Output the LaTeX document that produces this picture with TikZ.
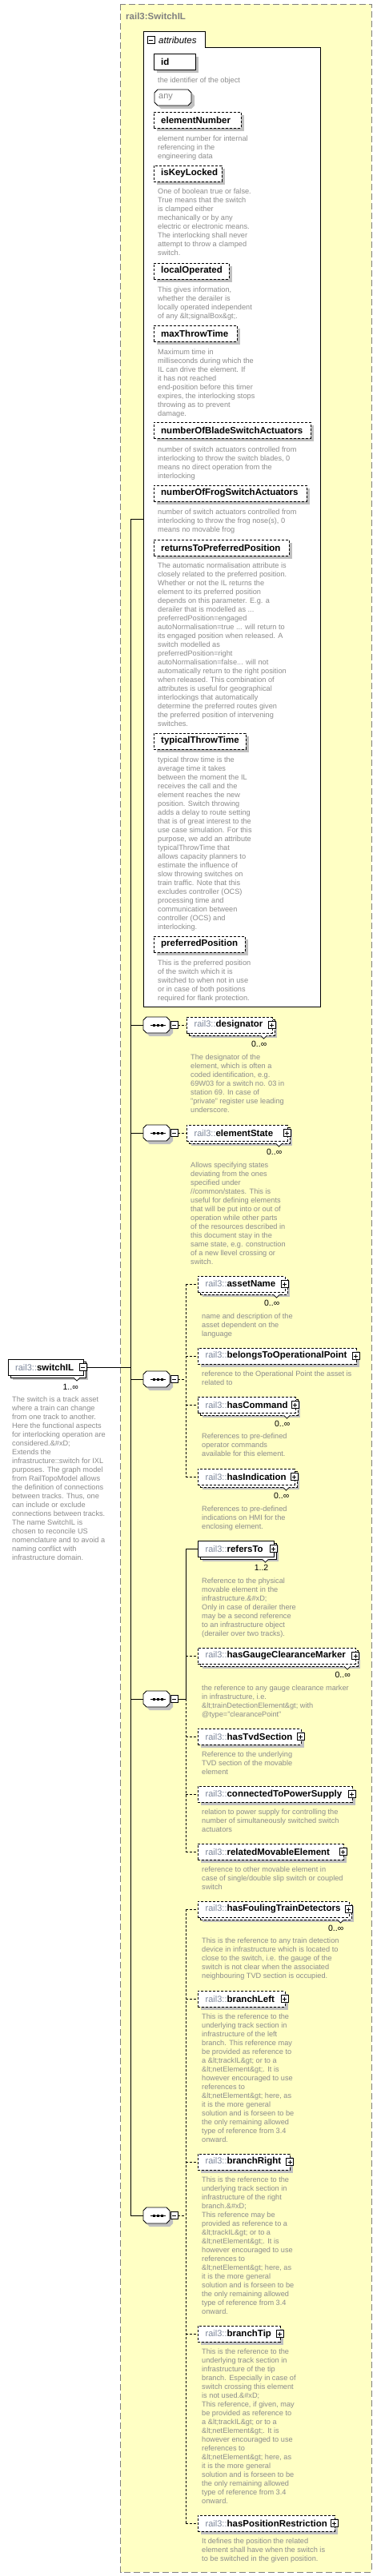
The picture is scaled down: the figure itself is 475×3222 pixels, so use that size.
\documentclass[tikz,border=0pt]{standalone}
\usepackage{fontspec}
\setmainfont{Liberation Sans}
\definecolor{bgy}{HTML}{FFFFC4}
\definecolor{shdg}{HTML}{C0C0C0}
\definecolor{dscg}{HTML}{8C8C8C}
\definecolor{preg}{HTML}{7C869A}
\definecolor{frameg}{HTML}{808080}
\tikzset{
  wire/.style={line width=0.9pt},
  dsh/.style={dash pattern=on 3pt off 2pt},
  sol/.style={},
  elbox/.style={rectangle, draw=black, fill=white, line width=0.9pt, minimum height=20pt, inner sep=0pt, anchor=west},
  lbl/.style={anchor=west, inner sep=0pt, font=\fontsize{11.5}{13}\selectfont},
  desc/.style={anchor=north west, inner sep=0pt, align=left, text=dscg, font=\fontsize{9.2}{11}\selectfont},
  occ/.style={anchor=east, inner sep=0pt, font=\fontsize{10.5}{12}\selectfont},
  sbox/.style={rectangle, draw=black, fill=white, line width=0.7pt, minimum size=9pt, inner sep=0pt},
}
\newcommand\xminus[3]{\node[sbox] (#1) at (#2,#3) {};
  \draw[line width=0.7pt] (#2-2.5,#3) -- (#2+2.5,#3);}
\newcommand\xplus[3]{\node[sbox] (#1) at (#2,#3) {};
  \draw[line width=0.7pt] (#2-2.5,#3) -- (#2+2.5,#3) (#2,#3-2.5) -- (#2,#3+2.5);}
\newcommand\xpre{{\fontsize{11}{13}\selectfont\color{preg}rail3::}}
% attribute: name, x2, yc, label, style
\newcommand\xattr[5]{%
  \fill[shdg] (196,#3-6) rectangle (#2+4,#3+14);
  \node[elbox,#5,minimum width={(#2-192)*1pt}] (#1) at (192,#3) {};
  \node[lbl] (#1l) at (201,#3) {\bfseries #4};}
% single element: name, x1, yc, x2, label, style
\newcommand\xone[6]{%
  \fill[shdg] (#2+4,#3-6) rectangle (#4+4,#3+14);
  \node[elbox,#6,minimum width={(#4-#2)*1pt}] (#1) at (#2,#3) {};
  \node[lbl] (#1l) at (#2+9.5,#3) {\xpre\bfseries #5};
  \xplus{#1p}{#4}{#3}}
% multiple element: name, x1, yc, x2, label, style, occurrence
\newcommand\xmul[7]{%
  \fill[shdg] (#2+6,#3-4) rectangle (#4+6,#3+16);
  \node[elbox,#6,minimum width={(#4-#2)*1pt}] (#1b) at (#2+3,#3+3) {};
  \filldraw[fill=white,line width=0.7pt] (#4-14,#3+13) -- (#4-10,#3+17) -- (#4-6,#3+13);
  \node[elbox,#6,minimum width={(#4-#2)*1pt}] (#1) at (#2,#3) {};
  \node[lbl] (#1l) at (#2+9.5,#3) {\xpre\bfseries #5};
  \xplus{#1p}{#4}{#3}
  \node[occ] (#1o) at (#4-6,#3+24) {#7};}
% sequence compositor: name, yc
\newcommand\xseq[2]{%
  \fill[shdg] (187,#2-6) -- (212,#2-6) -- (216,#2-2) -- (216,#2+10) -- (212,#2+14) -- (187,#2+14) -- (183,#2+10) -- (183,#2-2) -- cycle;
  \draw[fill=white,line width=0.9pt] (183,#2-10) -- (208,#2-10) -- (212,#2-6) -- (212,#2+6) -- (208,#2+10) -- (183,#2+10) -- (179,#2+6) -- (179,#2-6) -- cycle;
  \node[inner sep=0pt,minimum width=33pt,minimum height=20pt] (#1) at (195.5,#2) {};
  \draw[line width=0.9pt] (187.5,#2) -- (206.5,#2);
  \foreach \dx in {192,197,202} {\fill (\dx-1.5,#2-1.5) rectangle (\dx+1.5,#2+1.5);}
  \xminus{#1m}{217.5}{#2}}
% description: name, x, first line centre y, text
\newcommand\xdesc[4]{\node[desc] (#1) at (#2,#3-3.6) {#4};}

\begin{document}
\begin{tikzpicture}[x=1pt,y=-1pt]
\useasboundingbox (0,0) rectangle (475,3222);
\fill[white] (0,0) rectangle (475,3222);
\draw[frameg,fill=bgy,line width=1pt,dash pattern=on 8pt off 4pt] (150.5,5.5) rectangle (464,3217);
\node[anchor=west,inner sep=0pt,text=frameg,font=\bfseries\fontsize{11.5}{13}\selectfont] (title) at (157,20) {rail3:SwitchIL};

% ---------- attributes ----------
\draw[fill=white,line width=0.9pt] (179,1259) -- (179,39) -- (256,39) -- (256,59) -- (400,59) -- (400,1259) -- cycle;
\node[inner sep=0pt,minimum width=221pt,minimum height=1200pt,anchor=north west] (attrbox) at (179,59) {};
\xminus{attrm}{188.5}{50}
\node[anchor=west,inner sep=0pt,font=\itshape\fontsize{11.5}{13}\selectfont] (attrlbl) at (198,50) {attributes};

\xattr{id}{244}{77}{id}{sol}
\xdesc{idd}{197}{100}{the identifier of the object}

\fill[shdg] (201,116) -- (239,116) -- (243,120) -- (243,132) -- (239,136) -- (201,136) -- (197,132) -- (197,120) -- cycle;
\draw[fill=white,line width=0.9pt] (197,112) -- (235,112) -- (239,116) -- (239,128) -- (235,132) -- (197,132) -- (193,128) -- (193,116) -- cycle;
\node[inner sep=0pt,minimum width=46pt,minimum height=20pt] (any) at (216,122) {};
\node[anchor=west,inner sep=0pt,text=dscg,font=\fontsize{11}{13}\selectfont] (anyl) at (198,122) {any};

\xattr{elno}{301}{150}{elementNumber}{dsh}
\xdesc{elnod}{197}{173}{element number for internal\\referencing in the\\engineering data}
\xattr{ikl}{277}{217}{isKeyLocked}{dsh}
\xdesc{ikld}{197}{239}{One of boolean true or false.\\True means that the switch\\is clamped either\\mechanically or by any\\electric or electronic means.\\The interlocking shall never\\attempt to throw a clamped\\switch.}
\xattr{lop}{286}{339}{localOperated}{dsh}
\xdesc{lopd}{197}{362}{This gives information,\\whether the derailer is\\locally operated independent\\of any \&lt;signalBox\&gt;.}
\xattr{mtt}{296}{417}{maxThrowTime}{dsh}
\xdesc{mttd}{197}{440}{Maximum time in\\milliseconds during which the\\IL can drive the element. If\\it has not reached\\end-position before this timer\\expires, the interlocking stops\\throwing as to prevent\\damage.}
\xattr{nbs}{388}{538}{numberOfBladeSwitchActuators}{dsh}
\xdesc{nbsd}{197}{562}{number of switch actuators controlled from\\interlocking to throw the switch blades, 0\\means no direct operation from the\\interlocking}
\xattr{nfs}{383}{617}{numberOfFrogSwitchActuators}{dsh}
\xdesc{nfsd}{197}{640}{number of switch actuators controlled from\\interlocking to throw the frog nose(s), 0\\means no movable frog}
\xattr{rtp}{361}{685}{returnsToPreferredPosition}{dsh}
\xdesc{rtpd}{197}{707}{The automatic normalisation attribute is\\closely related to the preferred position.\\Whether or not the IL returns the\\element to its preferred position\\depends on this parameter. E.g. a\\derailer that is modelled as ...\\preferredPosition=engaged\\autoNormalisation=true ... will return to\\its engaged position when released. A\\switch modelled as\\preferredPosition=right\\autoNormalisation=false... will not\\automatically return to the right position\\when released. This combination of\\attributes is useful for geographical\\interlockings that automatically\\determine the preferred routes given\\the preferred position of intervening\\switches.}
\xattr{ttt}{307}{927}{typicalThrowTime}{dsh}
\xdesc{tttd}{197}{950}{typical throw time is the\\average time it takes\\between the moment the IL\\receives the call and the\\element reaches the new\\position. Switch throwing\\adds a delay to route setting\\that is of great interest to the\\use case simulation. For this\\purpose, we add an attribute\\typicalThrowTime that\\allows capacity planners to\\estimate the influence of\\slow throwing switches on\\train traffic. Note that this\\excludes controller (OCS)\\processing time and\\communication between\\controller (OCS) and\\interlocking.}
\xattr{ppo}{306}{1181}{preferredPosition}{dsh}
\xdesc{ppod}{197}{1204}{This is the preferred position\\of the switch which it is\\switched to when not in use\\or in case of both positions\\required for flank protection.}

% ---------- root element ----------
\fill[shdg] (16,1706) rectangle (110,1726);
\node[elbox,minimum width=94pt] (swb) at (13,1713) {};
\filldraw[fill=white,line width=0.7pt] (92,1723) -- (96,1727) -- (100,1723);
\node[elbox,minimum width=94pt] (sw) at (10,1710) {};
\node[lbl] (swl) at (19,1710) {\xpre\bfseries switchIL};
\xminus{swm}{103.5}{1710}
\node[occ] (swo) at (98,1735) {1..∞};
\xdesc{swd}{15}{1750}{The switch is a track asset\\where a train can change\\from one track to another.\\Here the functional aspects\\for interlocking operation are\\considered.\&\#xD;\\Extends the\\infrastructure::switch for IXL\\purposes. The graph model\\from RailTopoModel allows\\the definition of connections\\between tracks. Thus, one\\can include or exclude\\connections between tracks.\\The name SwitchIL is\\chosen to reconcile US\\nomenclature and to avoid a\\naming conflict with\\infrastructure domain.}

% ---------- sequences ----------
\xseq{seqa}{1282}
\xseq{seqb}{1417}
\xseq{seqc}{1725}
\xseq{seqd}{2125}
\xseq{seqe}{2771}

\xmul{desig}{233}{1282}{339.5}{designator}{dsh}{0..∞}
\xdesc{desigd}{238}{1322}{The designator of the\\element, which is often a\\coded identification, e.g.\\69W03 for a switch no. 03 in\\station 69. In case of\\"private" register use leading\\underscore.}
\xmul{estate}{233}{1417}{358.5}{elementState}{dsh}{0..∞}
\xdesc{estated}{238}{1457}{Allows specifying states\\deviating from the ones\\specified under\\//common/states. This is\\useful for defining elements\\that will be put into or out of\\operation while other parts\\of the resources described in\\this document stay in the\\same state, e.g. construction\\of a new llevel crossing or\\switch.}

\xmul{aname}{247}{1606}{355.5}{assetName}{dsh}{0..∞}
\xdesc{anamed}{252}{1646}{name and description of the\\asset dependent on the\\language}
\xone{btop}{247}{1696}{444.5}{belongsToOperationalPoint}{dsh}
\xdesc{btopd}{252}{1718}{reference to the Operational Point the asset is\\related to}
\xmul{hcmd}{247}{1757}{368.5}{hasCommand}{dsh}{0..∞}
\xdesc{hcmdd}{252}{1796}{References to pre-defined\\operator commands\\available for this element.}
\xmul{hind}{247}{1847}{367.5}{hasIndication}{dsh}{0..∞}
\xdesc{hindd}{252}{1887}{References to pre-defined\\indications on HMI for the\\enclosing element.}

\xmul{refto}{247}{1937}{341.5}{refersTo}{sol}{1..2}
\xdesc{reftod}{252}{1977}{Reference to the physical\\movable element in the\\infrastructure.\&\#xD;\\Only in case of derailer there\\may be a second reference\\to an infrastructure object\\(derailer over two tracks).}
\xmul{hgcm}{247}{2071}{444}{hasGaugeClearanceMarker}{dsh}{0..∞}
\xdesc{hgcmd}{252}{2111}{the reference to any gauge clearance marker\\in infrastructure, i.e.\\\&lt;trainDetectionElement\&gt; with\\@type="clearancePoint"}
\xone{htvd}{247}{2172}{375.5}{hasTvdSection}{dsh}
\xdesc{htvdd}{252}{2194}{Reference to the underlying\\TVD section of the movable\\element}
\xone{ctps}{247}{2244}{439.5}{connectedToPowerSupply}{dsh}
\xdesc{ctpsd}{252}{2266}{relation to power supply for controlling the\\number of simultaneously switched switch\\actuators}
\xone{rme}{247}{2316}{428.5}{relatedMovableElement}{dsh}
\xdesc{rmed}{252}{2338}{reference to other movable element in\\case of single/double slip switch or coupled\\switch}

\xmul{hftd}{247}{2388}{435.5}{hasFoulingTrainDetectors}{dsh}{0..∞}
\xdesc{hftdd}{252}{2427}{This is the reference to any train detection\\device in infrastructure which is located to\\close to the switch, i.e. the gauge of the\\switch is not clear when the associated\\neighbouring TVD section is occupied.}
\xone{brl}{247}{2500}{355.5}{branchLeft}{dsh}
\xdesc{brld}{252}{2522}{This is the reference to the\\underlying track section in\\infrastructure of the left\\branch. This reference may\\be provided as reference to\\a \&lt;trackIL\&gt; or to a\\\&lt;netElement\&gt;. It is\\however encouraged to use\\references to\\\&lt;netElement\&gt; here, as\\it is the more general\\solution and is forseen to be\\the only remaining allowed\\type of reference from 3.4\\onward.}
\xone{brr}{247}{2704}{362}{branchRight}{dsh}
\xdesc{brrd}{252}{2726}{This is the reference to the\\underlying track section in\\infrastructure of the right\\branch.\&\#xD;\\This reference may be\\provided as reference to a\\\&lt;trackIL\&gt; or to a\\\&lt;netElement\&gt;. It is\\however encouraged to use\\references to\\\&lt;netElement\&gt; here, as\\it is the more general\\solution and is forseen to be\\the only remaining allowed\\type of reference from 3.4\\onward.}
\xone{brt}{247}{2919}{349.5}{branchTip}{dsh}
\xdesc{brtd}{252}{2941}{This is the reference to the\\underlying track section in\\infrastructure of the tip\\branch. Especially in case of\\switch crossing this element\\is not used.\&\#xD;\\This reference, if given, may\\be provided as reference to\\a \&lt;trackIL\&gt; or to a\\\&lt;netElement\&gt;. It is\\however encouraged to use\\references to\\\&lt;netElement\&gt; here, as\\it is the more general\\solution and is forseen to be\\the only remaining allowed\\type of reference from 3.4\\onward.}
\xone{hpr}{247}{3156}{417.5}{hasPositionRestriction}{dsh}
\xdesc{hprd}{252}{3178}{It defines the position the related\\element shall have when the switch is\\to be switched in the given position.}

% ---------- connectors ----------
\coordinate (trTop) at (163,649);
\coordinate (trBot) at (163,2771);
\draw[wire] (trTop) -- (trBot);
\draw[wire] (swm.east) -- (swm.east -| trTop);
\draw[wire] (trTop) -- (trTop -| attrbox.west);
\foreach \s in {seqa,seqb,seqc,seqd,seqe} {\draw[wire] (\s.west -| trTop) -- (\s.west);}
\draw[wire,dsh] (seqam.east) -- (desig.west);
\draw[wire,dsh] (seqbm.east) -- (estate.west);

\coordinate (gct) at (232,1606);
\coordinate (gcb) at (232,1847);
\draw[wire,dsh] (seqcm.east) -- (seqcm.east -| gct);
\draw[wire,dsh] (gct) -- (gcb);
\foreach \e in {aname,btop,hcmd,hind} {\draw[wire,dsh] (\e.west -| gct) -- (\e.west);}

\coordinate (gdt) at (232,1937);
\coordinate (gdb) at (232,2316);
\draw[wire] (seqdm.east) -- (seqdm.east -| gdt);
\draw[wire] (gdt) -- (seqdm.east -| gdt);
\draw[wire,dsh] (seqdm.east -| gdt) -- (gdb);
\draw[wire] (refto.west -| gdt) -- (refto.west);
\foreach \e in {hgcm,htvd,ctps,rme} {\draw[wire,dsh] (\e.west -| gdt) -- (\e.west);}

\coordinate (get) at (232,2388);
\coordinate (geb) at (232,3156);
\draw[wire,dsh] (seqem.east) -- (seqem.east -| get);
\draw[wire,dsh] (get) -- (geb);
\foreach \e in {hftd,brl,brr,brt,hpr} {\draw[wire,dsh] (\e.west -| get) -- (\e.west);}
\end{tikzpicture}
\end{document}
